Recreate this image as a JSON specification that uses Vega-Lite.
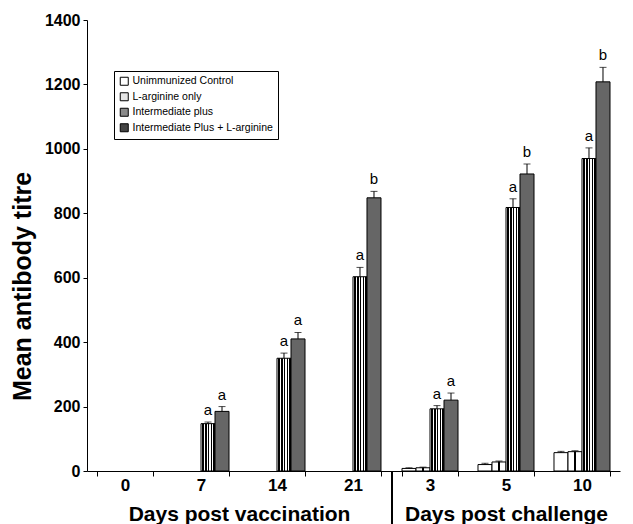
{
  "$schema": "https://vega.github.io/schema/vega-lite/v6.json",
  "padding": {"left": 10, "top": 12, "right": 5, "bottom": 0},
  "background": "white",
  "config": {
    "view": {"stroke": null},
    "font": "Liberation Sans",
    "axis": {"grid": false, "domainColor": "black", "tickColor": "black", "labelColor": "black", "titleColor": "black", "labelFont": "Liberation Sans", "titleFont": "Liberation Sans", "labelFontWeight": "bold", "titleFontWeight": "bold"},
    "legend": {"labelFont": "Liberation Sans"}
  },
  "data": {"values": [
    {"day": "7", "phase": "v", "group": "Intermediate plus", "mean": 147, "upper": 152, "letter": "a"},
    {"day": "7", "phase": "v", "group": "Intermediate Plus + L-arginine", "mean": 185, "upper": 200, "letter": "a"},
    {"day": "14", "phase": "v", "group": "Intermediate plus", "mean": 350, "upper": 366, "letter": "a"},
    {"day": "14", "phase": "v", "group": "Intermediate Plus + L-arginine", "mean": 410, "upper": 430, "letter": "a"},
    {"day": "21", "phase": "v", "group": "Intermediate plus", "mean": 603, "upper": 632, "letter": "a"},
    {"day": "21", "phase": "v", "group": "Intermediate Plus + L-arginine", "mean": 848, "upper": 868, "letter": "b"},
    {"day": "3", "phase": "c", "group": "Unimmunized Control", "mean": 8, "upper": 10, "letter": ""},
    {"day": "3", "phase": "c", "group": "L-arginine only", "mean": 10, "upper": 12, "letter": ""},
    {"day": "3", "phase": "c", "group": "Intermediate plus", "mean": 193, "upper": 203, "letter": "a"},
    {"day": "3", "phase": "c", "group": "Intermediate Plus + L-arginine", "mean": 220, "upper": 242, "letter": "a"},
    {"day": "5", "phase": "c", "group": "Unimmunized Control", "mean": 20, "upper": 24, "letter": ""},
    {"day": "5", "phase": "c", "group": "L-arginine only", "mean": 28, "upper": 31, "letter": ""},
    {"day": "5", "phase": "c", "group": "Intermediate plus", "mean": 818, "upper": 845, "letter": "a"},
    {"day": "5", "phase": "c", "group": "Intermediate Plus + L-arginine", "mean": 922, "upper": 953, "letter": "b"},
    {"day": "10", "phase": "c", "group": "Unimmunized Control", "mean": 57, "upper": 61, "letter": ""},
    {"day": "10", "phase": "c", "group": "L-arginine only", "mean": 60, "upper": 63, "letter": ""},
    {"day": "10", "phase": "c", "group": "Intermediate plus", "mean": 970, "upper": 1003, "letter": "a"},
    {"day": "10", "phase": "c", "group": "Intermediate Plus + L-arginine", "mean": 1208, "upper": 1253, "letter": "b"}
  ]},
  "spacing": 0,
  "hconcat": [
    {
      "width": 304,
      "height": 451,
      "transform": [{"filter": "datum.phase === 'v'"}],
      "layer": [
        {
          "mark": {"type": "bar", "stroke": "black", "strokeWidth": 1},
          "encoding": {
            "x": {"field": "day", "type": "nominal", "sort": null,
              "scale": {"domain": ["0", "7", "14", "21"], "paddingInner": 0.263, "paddingOuter": 0.1316},
              "axis": {"title": "Days post vaccination", "labelAngle": 0, "tickBand": "extent", "tickSize": 5, "labelPadding": 1, "labelFontSize": 17, "titleFontSize": 21, "titleY": 49, "titleBaseline": "alphabetic"}},
            "xOffset": {"field": "group", "type": "nominal", "scale": {"domain": ["Unimmunized Control", "L-arginine only", "Intermediate plus", "Intermediate Plus + L-arginine"], "paddingInner": 0, "paddingOuter": 0}},
            "y": {"field": "mean", "type": "quantitative", "scale": {"domain": [0, 1400]},
              "axis": {"title": "Mean antibody titre", "format": "d", "values": [0, 200, 400, 600, 800, 1000, 1200, 1400], "tickSize": 4, "labelPadding": 3, "labelFontSize": 16, "titleFontSize": 25, "titlePadding": 9, "titleY": 266}},
            "fill": {
              "condition": [
                {"test": "datum.group === 'Intermediate plus'", "value": {"gradient": "linear", "x1": 0, "x2": 1, "y1": 0, "y2": 0, "stops": [
                  {"offset": 0, "color": "#ffffff"}, {"offset": 0.08, "color": "#ffffff"}, {"offset": 0.08, "color": "#000000"}, {"offset": 0.2, "color": "#000000"},
                  {"offset": 0.2, "color": "#ffffff"}, {"offset": 0.28, "color": "#ffffff"}, {"offset": 0.28, "color": "#000000"}, {"offset": 0.4, "color": "#000000"},
                  {"offset": 0.4, "color": "#ffffff"}, {"offset": 0.48, "color": "#ffffff"}, {"offset": 0.48, "color": "#000000"}, {"offset": 0.6, "color": "#000000"},
                  {"offset": 0.6, "color": "#ffffff"}, {"offset": 0.68, "color": "#ffffff"}, {"offset": 0.68, "color": "#000000"}, {"offset": 0.8, "color": "#000000"},
                  {"offset": 0.8, "color": "#ffffff"}, {"offset": 0.88, "color": "#ffffff"}, {"offset": 0.88, "color": "#000000"}, {"offset": 1, "color": "#000000"}]}},
                {"test": "datum.group === 'L-arginine only'", "value": {"gradient": "linear", "x1": 0, "x2": 1, "y1": 0, "y2": 0, "stops": [
                  {"offset": 0, "color": "#ffffff"}, {"offset": 0.46, "color": "#ffffff"}, {"offset": 0.46, "color": "#000000"}, {"offset": 0.54, "color": "#000000"}, {"offset": 0.54, "color": "#ffffff"}, {"offset": 1, "color": "#ffffff"}]}},
                {"test": "datum.group === 'Intermediate Plus + L-arginine'", "value": "#666666"}
              ],
              "value": "#ffffff"
            }
          }
        },
        {
          "mark": {"type": "rule", "color": "black", "strokeWidth": 1},
          "encoding": {
            "x": {"field": "day", "type": "nominal"},
            "xOffset": {"field": "group", "type": "nominal"},
            "y": {"field": "mean", "type": "quantitative"},
            "y2": {"field": "upper"}
          }
        },
        {
          "mark": {"type": "tick", "color": "black", "size": 7, "thickness": 1},
          "encoding": {
            "x": {"field": "day", "type": "nominal"},
            "xOffset": {"field": "group", "type": "nominal"},
            "y": {"field": "upper", "type": "quantitative"}
          }
        },
        {
          "mark": {"type": "text", "baseline": "bottom", "dy": -4, "fontSize": 15, "font": "Liberation Sans", "color": "black"},
          "encoding": {
            "x": {"field": "day", "type": "nominal"},
            "xOffset": {"field": "group", "type": "nominal"},
            "y": {"field": "upper", "type": "quantitative"},
            "text": {"field": "letter"}
          }
        },
        {
          "mark": {"type": "square", "opacity": 0, "filled": true, "stroke": "black", "strokeWidth": 1},
          "encoding": {
            "x": {"field": "day", "type": "nominal"},
            "xOffset": {"field": "group", "type": "nominal"},
            "y": {"field": "mean", "type": "quantitative"},
            "color": {"field": "group", "type": "nominal",
              "scale": {"domain": ["Unimmunized Control", "L-arginine only", "Intermediate plus", "Intermediate Plus + L-arginine"], "range": ["#ffffff", "#e4e4e4", "#8a8a8a", "#444444"]},
              "legend": {"title": null, "orient": "none", "legendX": 27, "legendY": 51, "symbolType": "square", "symbolSize": 64, "symbolOpacity": 1, "symbolStrokeColor": "black", "symbolStrokeWidth": 1, "labelFontSize": 10.5, "labelColor": "black", "rowPadding": 2.5, "padding": 5, "strokeColor": "black", "fillColor": "white", "labelOffset": 3}}
          }
        }
      ]
    },
    {
      "width": 228,
      "height": 451,
      "transform": [{"filter": "datum.phase === 'c'"}],
      "layer": [
        {
          "mark": {"type": "bar", "stroke": "black", "strokeWidth": 1},
          "encoding": {
            "x": {"field": "day", "type": "nominal", "sort": null,
              "scale": {"domain": ["3", "5", "10"], "paddingInner": 0.263, "paddingOuter": 0.1316},
              "axis": {"title": "Days post challenge", "labelAngle": 0, "tickBand": "extent", "tickSize": 5, "labelPadding": 1, "labelFontSize": 17, "titleFontSize": 21, "titleY": 49, "titleBaseline": "alphabetic"}},
            "xOffset": {"field": "group", "type": "nominal", "scale": {"domain": ["Unimmunized Control", "L-arginine only", "Intermediate plus", "Intermediate Plus + L-arginine"], "paddingInner": 0, "paddingOuter": 0}},
            "y": {"field": "mean", "type": "quantitative", "scale": {"domain": [0, 1400]}, "axis": null},
            "fill": {
              "condition": [
                {"test": "datum.group === 'Intermediate plus'", "value": {"gradient": "linear", "x1": 0, "x2": 1, "y1": 0, "y2": 0, "stops": [
                  {"offset": 0, "color": "#ffffff"}, {"offset": 0.08, "color": "#ffffff"}, {"offset": 0.08, "color": "#000000"}, {"offset": 0.2, "color": "#000000"},
                  {"offset": 0.2, "color": "#ffffff"}, {"offset": 0.28, "color": "#ffffff"}, {"offset": 0.28, "color": "#000000"}, {"offset": 0.4, "color": "#000000"},
                  {"offset": 0.4, "color": "#ffffff"}, {"offset": 0.48, "color": "#ffffff"}, {"offset": 0.48, "color": "#000000"}, {"offset": 0.6, "color": "#000000"},
                  {"offset": 0.6, "color": "#ffffff"}, {"offset": 0.68, "color": "#ffffff"}, {"offset": 0.68, "color": "#000000"}, {"offset": 0.8, "color": "#000000"},
                  {"offset": 0.8, "color": "#ffffff"}, {"offset": 0.88, "color": "#ffffff"}, {"offset": 0.88, "color": "#000000"}, {"offset": 1, "color": "#000000"}]}},
                {"test": "datum.group === 'L-arginine only'", "value": {"gradient": "linear", "x1": 0, "x2": 1, "y1": 0, "y2": 0, "stops": [
                  {"offset": 0, "color": "#ffffff"}, {"offset": 0.46, "color": "#ffffff"}, {"offset": 0.46, "color": "#000000"}, {"offset": 0.54, "color": "#000000"}, {"offset": 0.54, "color": "#ffffff"}, {"offset": 1, "color": "#ffffff"}]}},
                {"test": "datum.group === 'Intermediate Plus + L-arginine'", "value": "#666666"}
              ],
              "value": "#ffffff"
            }
          }
        },
        {
          "mark": {"type": "rule", "color": "black", "strokeWidth": 1},
          "encoding": {
            "x": {"field": "day", "type": "nominal"},
            "xOffset": {"field": "group", "type": "nominal"},
            "y": {"field": "mean", "type": "quantitative"},
            "y2": {"field": "upper"}
          }
        },
        {
          "mark": {"type": "tick", "color": "black", "size": 7, "thickness": 1},
          "encoding": {
            "x": {"field": "day", "type": "nominal"},
            "xOffset": {"field": "group", "type": "nominal"},
            "y": {"field": "upper", "type": "quantitative"}
          }
        },
        {
          "mark": {"type": "text", "baseline": "bottom", "dy": -4, "fontSize": 15, "font": "Liberation Sans", "color": "black"},
          "encoding": {
            "x": {"field": "day", "type": "nominal"},
            "xOffset": {"field": "group", "type": "nominal"},
            "y": {"field": "upper", "type": "quantitative"},
            "text": {"field": "letter"}
          }
        },
        {
          "mark": {"type": "rule", "color": "black", "strokeWidth": 1.3, "clip": false},
          "encoding": {
            "x": {"datum": "3", "bandPosition": -0.1786},
            "y": {"datum": 0},
            "y2": {"datum": -175}
          }
        }
      ]
    }
  ]
}
